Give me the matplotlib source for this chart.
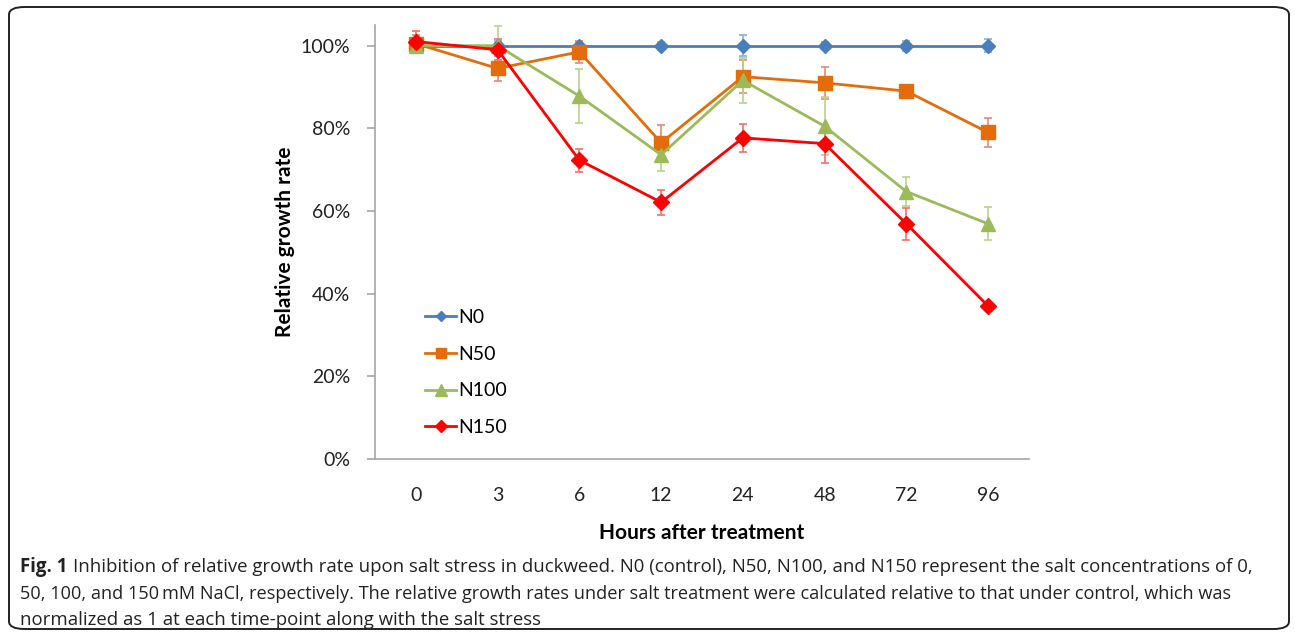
import matplotlib
matplotlib.use("Agg")
import matplotlib.pyplot as plt
from matplotlib.patches import FancyBboxPatch
from matplotlib.ticker import PercentFormatter
import numpy as np

hours = ["0", "3", "6", "12", "24", "48", "72", "96"]
n0 = [100, 100, 100, 100, 100, 100, 100, 100]
n0_err = [1.5, 1.2, 1.0, 1.0, 2.5, 0.8, 1.2, 1.5]
n50 = [100.5, 94.5, 98.5, 76.5, 92.5, 91.0, 89.0, 79.0]
n50_err = [2.0, 3.0, 2.7, 4.4, 4.0, 3.8, 0.5, 3.6]
n100 = [100.0, 100.0, 87.8, 73.6, 91.6, 80.5, 64.7, 56.9]
n100_err = [1.5, 4.7, 6.5, 4.0, 5.5, 7.0, 3.5, 4.0]
n150 = [101.0, 99.0, 72.3, 62.1, 77.7, 76.3, 56.9, 37.0]
n150_err = [2.5, 2.5, 2.8, 3.0, 3.4, 4.6, 3.8, 0.5]

labels = ["N0", "N50", "N100", "N150"]
colors = ["#4A7EBB", "#E46C0A", "#9BBB59", "#FF0000"]
err_colors = ["#7FB2D6", "#E08A7A", "#B9D38A", "#F07070"]
markers = ["D", "s", "^", "D"]
msizes = [7, 9.5, 10, 8]
series = [n0, n50, n100, n150]
errs = [n0_err, n50_err, n100_err, n150_err]

W, H = 1295, 637
fig = plt.figure(figsize=(W / 100, H / 100), dpi=100)
font = "Lato"

# outer rounded frame
frame = FancyBboxPatch((9 / W, 8 / H), (1289 - 9) / W, (630 - 8) / H,
                       boxstyle="round,pad=0,rounding_size=0.012",
                       transform=fig.transFigure, fill=False, edgecolor="#222222", linewidth=1.4)
fig.patches.append(frame)

ax = fig.add_axes([375 / W, (H - 459) / H, 654 / W, (459 - 25) / H])
x = np.arange(len(hours))
handles = []
for vals, er, c, ec, m, ms, lab in zip(series, errs, colors, err_colors, markers, msizes, labels):
    vals = np.array(vals) / 100
    er = np.array(er) / 100
    ax.errorbar(x, vals, yerr=er, fmt="none", ecolor=ec, elinewidth=1.2, capsize=3, capthick=1.2, zorder=2)
    h, = ax.plot(x, vals, color=c, linewidth=2.0, marker=m, markersize=ms,
                 markeredgecolor=c, label=lab, zorder=3)
    handles.append(h)

ax.set_xlim(-0.5, len(hours) - 0.5)
ax.set_ylim(0, 1.05)
ax.set_yticks(np.arange(0, 1.01, 0.2))
ax.yaxis.set_major_formatter(PercentFormatter(1.0, decimals=0))
ax.set_xticks(x)
ax.set_xticklabels(hours)
for s in ["top", "right"]:
    ax.spines[s].set_visible(False)
for s in ["left", "bottom"]:
    ax.spines[s].set_color("#A6A6A6")
    ax.spines[s].set_linewidth(1.2)
ax.tick_params(axis="y", length=6, width=1.2, color="#A6A6A6", labelsize=14, pad=12)
ax.tick_params(axis="x", length=0, labelsize=14, pad=20)
for t in ax.get_xticklabels() + ax.get_yticklabels():
    t.set_fontfamily(font)
    t.set_color("#222222")

ax.set_ylabel("Relative growth rate", fontsize=15, fontweight="bold", fontfamily=font, labelpad=4)
ax.set_xlabel("Hours after treatment", fontsize=15, fontweight="bold", fontfamily=font, labelpad=14)

leg = ax.legend(handles=handles, loc="upper left", bbox_to_anchor=(0.065, 0.364), frameon=False,
                prop={"family": font, "size": 14}, handlelength=1.6, handletextpad=0.1,
                labelspacing=1.02, borderaxespad=0, markerscale=0.8)

cfs = 13.4
cap_y = [567, 594, 620]
fig.canvas.draw()
r = fig.canvas.get_renderer()
t0 = fig.text(20 / W, 1 - cap_y[0] / H, "Fig. 1", fontsize=cfs, fontweight="bold", fontfamily="Open Sans",
              va="center", ha="left", color="#222222")
bb = t0.get_window_extent(renderer=r)
fig.text((bb.x1 + 6) / W, 1 - cap_y[0] / H,
         "Inhibition of relative growth rate upon salt stress in duckweed. N0 (control), N50, N100, and N150 represent the salt concentrations of 0,",
         fontsize=cfs, fontfamily="Open Sans", va="center", ha="left", color="#222222")
fig.text(20 / W, 1 - cap_y[1] / H,
         "50, 100, and 150\u2009mM NaCl, respectively. The relative growth rates under salt treatment were calculated relative to that under control, which was",
         fontsize=cfs - 0.3, fontfamily="Open Sans", va="center", ha="left", color="#222222")
fig.text(20 / W, 1 - cap_y[2] / H,
         "normalized as 1 at each time-point along with the salt stress",
         fontsize=cfs, fontfamily="Open Sans", va="center", ha="left", color="#222222")

fig.savefig("out.png", dpi=100)
